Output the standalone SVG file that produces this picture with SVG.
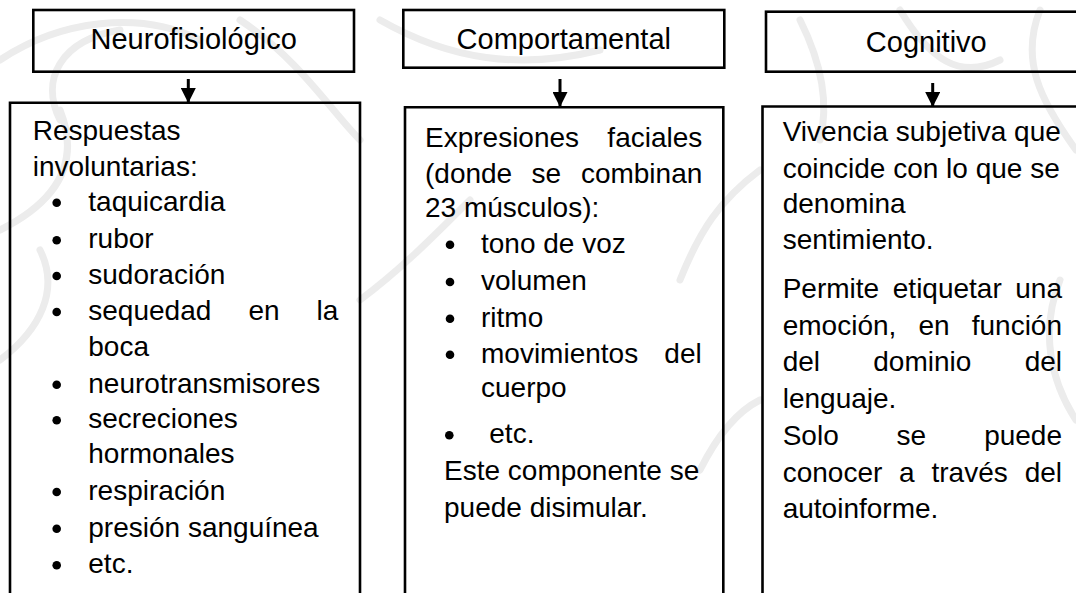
<svg xmlns="http://www.w3.org/2000/svg" width="1076" height="593" viewBox="0 0 1076 593">
<style>
.bg{fill:#ffffff}
.wm{fill:none;stroke:#ececec;stroke-width:7;stroke-linecap:round}
.box{fill:none;stroke:#000;stroke-width:2.6}
.hdr{font-family:"Liberation Sans",Arial,sans-serif;font-size:29px;fill:#000;text-anchor:middle}
.t{font-family:"Liberation Sans",Arial,sans-serif;font-size:28px;fill:#000}
.e{text-anchor:end}
.conn{stroke:#000;stroke-width:3;fill:none}
.b{fill:#000}
</style>
<defs>
<marker id="ah" viewBox="0 0 10 10" refX="10" refY="5" markerWidth="5" markerHeight="5" markerUnits="strokeWidth" orient="auto">
<path d="M0,0 L10,5 L0,10 Z" fill="#000"/>
</marker>
</defs>
<rect class="bg" x="0" y="0" width="1076" height="593"/>
<g id="watermark">
<path class="wm" d="M0,60 C60,20 140,10 200,40"/>
<path class="wm" d="M60,120 C40,80 60,40 120,30"/>
<path class="wm" d="M240,20 C300,60 330,110 360,140"/>
<path class="wm" d="M380,20 C450,60 520,70 600,50"/>
<path class="wm" d="M0,230 C60,200 80,160 60,110"/>
<path class="wm" d="M0,360 C40,330 60,290 40,250"/>
<path class="wm" d="M360,300 C400,270 430,240 470,200"/>
<path class="wm" d="M680,280 C700,230 720,200 760,170"/>
<path class="wm" d="M800,20 C820,60 830,100 820,140"/>
<path class="wm" d="M900,10 C930,60 960,80 1000,60"/>
<path class="wm" d="M1076,150 C1040,100 1020,60 1040,10"/>
<path class="wm" d="M1076,420 C1050,380 1040,330 1060,280"/>
<path class="wm" d="M700,470 C720,430 740,410 760,400"/>
</g>
<g id="connectors">
<line class="conn" x1="188.3" y1="79" x2="188.3" y2="103" marker-end="url(#ah)"/>
<line class="conn" x1="560" y1="79" x2="560" y2="107" marker-end="url(#ah)"/>
<line class="conn" x1="932.7" y1="83" x2="932.7" y2="107" marker-end="url(#ah)"/>
</g>
<g id="hdr-neuro">
<rect class="box" x="33.3" y="10" width="320.7" height="61.7"/>
<text class="hdr" x="193.7" y="49.3">Neurofisiológico</text>
</g>
<g id="hdr-comport">
<rect class="box" x="403.3" y="10" width="321" height="57.7"/>
<text class="hdr" x="563.8" y="49.3">Comportamental</text>
</g>
<g id="hdr-cogn">
<rect class="box" x="766" y="11.7" width="330" height="60"/>
<text class="hdr" x="926.3" y="51.7">Cognitivo</text>
</g>
<g id="box-neuro">
<path class="box" d="M10,600 V102.7 H360 V600"/>
<text class="t" x="32.7" y="140">Respuestas</text>
<text class="t" x="32.7" y="176">involuntarias:</text>
<circle class="b" cx="56.7" cy="202.7" r="4.3"/><text class="t" x="88.3" y="210.7">taquicardia</text>
<circle class="b" cx="56.7" cy="240.3" r="4.3"/><text class="t" x="88.3" y="248.3">rubor</text>
<circle class="b" cx="56.7" cy="276" r="4.3"/><text class="t" x="88.3" y="284">sudoración</text>
<circle class="b" cx="56.7" cy="312" r="4.3"/><text class="t" x="88.3" y="320">sequedad</text><text class="t" x="248.4" y="320">en</text><text class="t e" x="338.3" y="320">la</text>
<text class="t" x="88.3" y="355.7">boca</text>
<circle class="b" cx="56.7" cy="384.7" r="4.3"/><text class="t" x="88.3" y="392.7">neurotransmisores</text>
<circle class="b" cx="56.7" cy="420.3" r="4.3"/><text class="t" x="88.3" y="428.3">secreciones</text>
<text class="t" x="88.3" y="463.3">hormonales</text>
<circle class="b" cx="56.7" cy="492" r="4.3"/><text class="t" x="88.3" y="500">respiración</text>
<circle class="b" cx="56.7" cy="528.7" r="4.3"/><text class="t" x="88.3" y="536.7">presión sanguínea</text>
<circle class="b" cx="56.7" cy="565.3" r="4.3"/><text class="t" x="88.3" y="573.3">etc.</text>
</g>
<g id="box-comport">
<path class="box" d="M405,600 V107.3 H723.3 V600"/>
<text class="t" x="425" y="147.3">Expresiones</text><text class="t e" x="702.3" y="147.3">faciales</text>
<text class="t" x="425" y="182.7">(donde</text><text class="t" x="531.6" y="182.7">se</text><text class="t e" x="702.3" y="182.7">combinan</text>
<text class="t" x="425" y="216.5">23 músculos):</text>
<circle class="b" cx="450" cy="244.7" r="4.3"/><text class="t" x="481" y="252.7">tono de voz</text>
<circle class="b" cx="450" cy="282" r="4.3"/><text class="t" x="481" y="290">volumen</text>
<circle class="b" cx="450" cy="318.7" r="4.3"/><text class="t" x="481" y="326.7">ritmo</text>
<circle class="b" cx="450" cy="354.7" r="4.3"/><text class="t" x="481" y="362.7">movimientos</text><text class="t e" x="701.7" y="362.7">del</text>
<text class="t" x="481" y="396.7">cuerpo</text>
<circle class="b" cx="449.3" cy="435.3" r="4.3"/><text class="t" x="489.3" y="443.3">etc.</text>
<text class="t" x="444" y="480">Este componente se</text>
<text class="t" x="444" y="516.7">puede disimular.</text>
</g>
<g id="box-cogn">
<path class="box" d="M762.5,600 V106.5 H1090"/>
<text class="t" x="782.7" y="141">Vivencia subjetiva que</text>
<text class="t" x="782.7" y="177.5">coincide con lo que se</text>
<text class="t" x="782.7" y="213.3">denomina</text>
<text class="t" x="782.7" y="248.5">sentimiento.</text>
<text class="t" x="782.7" y="298">Permite</text><text class="t" x="892.8" y="298">etiquetar</text><text class="t e" x="1062" y="298">una</text>
<text class="t" x="782.7" y="334.7">emoción,</text><text class="t" x="918.5" y="334.7">en</text><text class="t e" x="1062" y="334.7">función</text>
<text class="t" x="782.7" y="371.3">del</text><text class="t" x="873.3" y="371.3">dominio</text><text class="t e" x="1062" y="371.3">del</text>
<text class="t" x="782.7" y="408">lenguaje.</text>
<text class="t" x="782.7" y="445">Solo</text><text class="t" x="896.6" y="445">se</text><text class="t e" x="1062" y="445">puede</text>
<text class="t" x="782.7" y="481.7">conocer</text><text class="t" x="899.1" y="481.7">a</text><text class="t" x="931.5" y="481.7">través</text><text class="t e" x="1062" y="481.7">del</text>
<text class="t" x="782.7" y="518.3">autoinforme.</text>
</g>
</svg>
